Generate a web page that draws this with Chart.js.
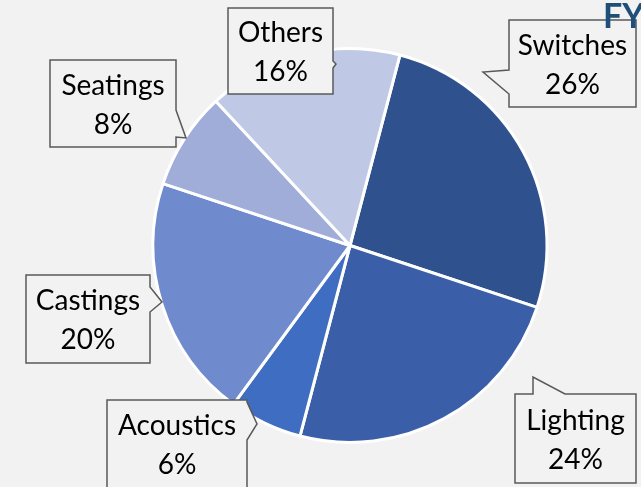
<!DOCTYPE html>
<html>
<head>
<meta charset="utf-8">
<script src="https://cdn.jsdelivr.net/npm/chart.js@4.4.0/dist/chart.umd.min.js"></script>
<style>
  html, body { margin: 0; padding: 0; background: #f2f2f2; }
  #wrap { width: 641px; height: 487px; position: relative; }
</style>
</head>
<body>
<div id="wrap"><canvas id="chart1"></canvas></div>
<script>
const categories = ['Switches', 'Lighting', 'Acoustics', 'Castings', 'Seatings', 'Others'];
const shares = [26, 24, 6, 20, 8, 16];
const sliceColors = ['#2f528f', '#3a5ea8', '#3f6dc1', '#6f8acd', '#a0add9', '#bfc9e6'];

// callout boxes: rect + pointer (side, from, to along edge, tip)
const callouts = [
    { box: [509, 20, 127, 87], side: 'left', p: [70, 94], tip: [483, 72] },
    { box: [515, 394, 121, 89], side: 'top', p: [533, 565], tip: [533, 377] },
    { box: [107, 400, 140, 100], side: 'right', p: [402, 440], tip: [257, 424] },
    { box: [26, 275, 124, 88], side: 'right', p: [287, 312], tip: [162, 302] },
    { box: [50, 60, 126, 87], side: 'right', p: [110, 137], tip: [186, 138] },
    { box: [228, 8, 105, 86], side: 'right', p: [61, 68], tip: [336, 64] }
];

const calloutPlugin = {
    id: 'callouts',
    afterDraw(chart) {
        const ctx = chart.ctx;
        ctx.save();
        callouts.forEach((c, i) => {
            const [x, y, w, h] = c.box;
            ctx.beginPath();
            ctx.moveTo(x, y);
            if (c.side === 'top') {
                ctx.lineTo(c.p[0], y); ctx.lineTo(c.tip[0], c.tip[1]); ctx.lineTo(c.p[1], y);
            }
            ctx.lineTo(x + w, y);
            if (c.side === 'right') {
                ctx.lineTo(x + w, c.p[0]); ctx.lineTo(c.tip[0], c.tip[1]); ctx.lineTo(x + w, c.p[1]);
            }
            ctx.lineTo(x + w, y + h);
            ctx.lineTo(x, y + h);
            if (c.side === 'left') {
                ctx.lineTo(x, c.p[1]); ctx.lineTo(c.tip[0], c.tip[1]); ctx.lineTo(x, c.p[0]);
            }
            ctx.closePath();
            ctx.fillStyle = '#f2f2f2';
            ctx.fill();
            ctx.strokeStyle = '#595959';
            ctx.lineWidth = 1.5;
            ctx.stroke();

            ctx.fillStyle = '#000';
            ctx.font = '28px Lato';
            ctx.textAlign = 'center';
            ctx.textBaseline = 'middle';
            const cx = x + w / 2;
            const cy = i === 2 ? y + 44 : y + h / 2;
            ctx.fillText(categories[i], cx, cy - 18);
            ctx.fillText(shares[i] + '%', cx, cy + 21);
        });
        // заголовок, обрезан краем
        ctx.fillStyle = '#1f4e79';
        ctx.font = 'bold 34px Lato';
        ctx.textAlign = 'left';
        ctx.textBaseline = 'alphabetic';
        ctx.fillText('FY', 603, 28);
        ctx.restore();
    }
};

document.addEventListener('DOMContentLoaded', () => {
    const chart1 = document.getElementById('chart1');
    new Chart(chart1.getContext('2d'), {
        type: 'pie',
        data: {
            labels: categories,
            datasets: [{
                data: shares,
                backgroundColor: sliceColors,
                borderColor: '#ffffff',
                borderWidth: 3
            }]
        },
        plugins: [calloutPlugin],
        options: {
            responsive: true,
            maintainAspectRatio: false,
            animation: false,
            rotation: 14.7,
            layout: {
                padding: { top: 47, bottom: 43, left: 100, right: 41 }
            },
            plugins: {
                legend: { display: false },
                tooltip: { enabled: false }
            }
        }
    });
});
</script>
</body>
</html>
